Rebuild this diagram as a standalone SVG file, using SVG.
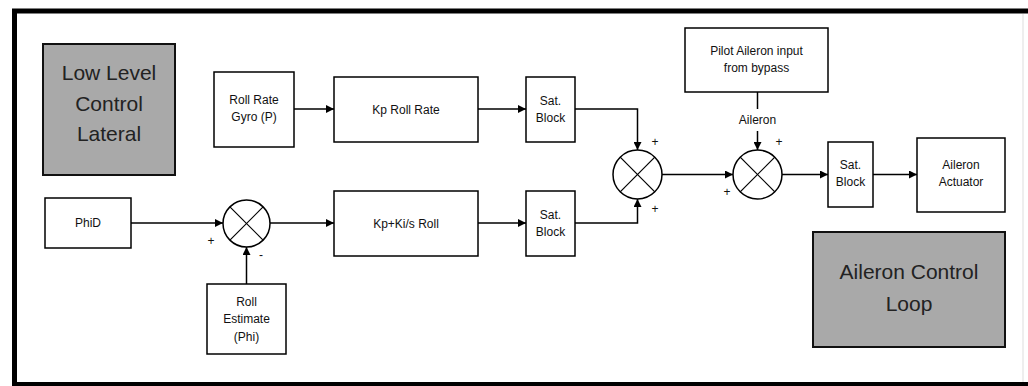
<svg xmlns="http://www.w3.org/2000/svg" width="1028" height="386" viewBox="0 0 1028 386">
<defs>
<style>
.box{fill:#fff;stroke:#000;stroke-width:1.5}
.gray{fill:#a9a9a9;stroke:#111;stroke-width:2}
.sum{fill:#fff;stroke:#000;stroke-width:1.5}
.x{stroke:#000;stroke-width:1.2}
.t{font-family:"Liberation Sans",Arial,sans-serif;font-size:12px;fill:#111;text-anchor:middle}
.big{font-family:"Liberation Sans",Arial,sans-serif;font-size:21px;fill:#222;text-anchor:middle}
.sign{font-family:"Liberation Sans",Arial,sans-serif;font-size:12px;fill:#111;text-anchor:middle}
.c{fill:none;stroke:#000;stroke-width:1.5}
</style>
<marker id="ah" viewBox="0 0 10 10" refX="10" refY="5" markerWidth="8" markerHeight="8" markerUnits="userSpaceOnUse" orient="auto">
<path d="M0,0 L10,5 L0,10 z" fill="#000"/>
</marker>
</defs>
<rect x="0" y="0" width="1028" height="386" fill="#fff"/>
<path d="M14.5,386 L14.5,11 L1028,11" fill="none" stroke="#000" stroke-width="5"/>
<line x1="12" y1="384" x2="1028" y2="384" stroke="#000" stroke-width="4"/>
<line x1="1023" y1="14" x2="1023" y2="382" stroke="#ddd" stroke-width="1"/>

<g id="low-level">
<rect class="gray" x="43" y="44" width="132" height="131"/>
<text class="big" x="109" y="80">Low Level</text>
<text class="big" x="109" y="111">Control</text>
<text class="big" x="109" y="141">Lateral</text>
</g>
<g id="roll-rate-gyro">
<rect class="box" x="214" y="72" width="80" height="75"/>
<text class="t" x="254" y="104">Roll Rate</text>
<text class="t" x="254" y="121">Gyro (P)</text>
</g>
<g id="kp-roll-rate">
<rect class="box" x="334" y="77" width="144" height="65"/>
<text class="t" x="406" y="114">Kp Roll Rate</text>
</g>
<g id="sat-top">
<rect class="box" x="526" y="77" width="49" height="65"/>
<text class="t" x="550.5" y="105">Sat.</text>
<text class="t" x="550.5" y="122">Block</text>
</g>
<g id="phid">
<rect class="box" x="45" y="198" width="86" height="50"/>
<text class="t" x="88" y="227">PhiD</text>
</g>
<g id="sum1">
<circle class="sum" cx="246.5" cy="223.5" r="23.5"/>
<line class="x" x1="229.9" y1="206.9" x2="263.1" y2="240.1"/>
<line class="x" x1="263.1" y1="206.9" x2="229.9" y2="240.1"/>
</g>
<g id="roll-estimate">
<rect class="box" x="207" y="284" width="79" height="70"/>
<text class="t" x="246.5" y="306">Roll</text>
<text class="t" x="246.5" y="323">Estimate</text>
<text class="t" x="246.5" y="341">(Phi)</text>
</g>
<g id="kp-ki-roll">
<rect class="box" x="334" y="191" width="144" height="65"/>
<text class="t" x="406" y="228">Kp+Ki/s Roll</text>
</g>
<g id="sat-bottom">
<rect class="box" x="526" y="191" width="49" height="65"/>
<text class="t" x="550.5" y="219">Sat.</text>
<text class="t" x="550.5" y="236">Block</text>
</g>
<g id="sum2">
<circle class="sum" cx="637.5" cy="174.5" r="24.5"/>
<line class="x" x1="620.2" y1="157.2" x2="654.8" y2="191.8"/>
<line class="x" x1="654.8" y1="157.2" x2="620.2" y2="191.8"/>
</g>
<g id="pilot-aileron">
<rect class="box" x="685" y="28" width="143" height="64"/>
<text class="t" x="756.5" y="55">Pilot Aileron input</text>
<text class="t" x="756.5" y="72">from bypass</text>
</g>
<g id="sum3">
<circle class="sum" cx="757.5" cy="174.5" r="24.5"/>
<line class="x" x1="740.2" y1="157.2" x2="774.8" y2="191.8"/>
<line class="x" x1="774.8" y1="157.2" x2="740.2" y2="191.8"/>
</g>
<g id="sat-out">
<rect class="box" x="828" y="142" width="45" height="65"/>
<text class="t" x="850.5" y="169">Sat.</text>
<text class="t" x="850.5" y="186">Block</text>
</g>
<g id="aileron-actuator">
<rect class="box" x="917" y="138" width="88" height="74"/>
<text class="t" x="961" y="169">Aileron</text>
<text class="t" x="961" y="186">Actuator</text>
</g>
<g id="aileron-control-loop">
<rect class="gray" x="813" y="232" width="192" height="115"/>
<text class="big" x="909" y="279">Aileron Control</text>
<text class="big" x="909" y="311">Loop</text>
</g>

<g id="connectors">
<line class="c" x1="294" y1="109" x2="334" y2="109" marker-end="url(#ah)"/>
<line class="c" x1="478" y1="109" x2="526" y2="109" marker-end="url(#ah)"/>
<polyline class="c" points="575,109 637.5,109 637.5,150" marker-end="url(#ah)"/>
<line class="c" x1="131" y1="223" x2="223" y2="223" marker-end="url(#ah)"/>
<line class="c" x1="246.5" y1="284" x2="246.5" y2="247" marker-end="url(#ah)"/>
<line class="c" x1="270" y1="223" x2="334" y2="223" marker-end="url(#ah)"/>
<line class="c" x1="478" y1="223" x2="526" y2="223" marker-end="url(#ah)"/>
<polyline class="c" points="575,223 637.5,223 637.5,199" marker-end="url(#ah)"/>
<line class="c" x1="662" y1="174.5" x2="733" y2="174.5" marker-end="url(#ah)"/>
<line class="c" x1="757.5" y1="92" x2="757.5" y2="109"/>
<line class="c" x1="757.5" y1="131" x2="757.5" y2="150" marker-end="url(#ah)"/>
<text class="t" x="757.5" y="124">Aileron</text>
<line class="c" x1="782" y1="174.5" x2="828" y2="174.5" marker-end="url(#ah)"/>
<line class="c" x1="873" y1="174.5" x2="917" y2="174.5" marker-end="url(#ah)"/>
<text class="sign" x="211" y="245">+</text>
<text class="sign" x="261" y="259">-</text>
<text class="sign" x="655" y="146">+</text>
<text class="sign" x="655" y="213">+</text>
<text class="sign" x="727" y="196">+</text>
<text class="sign" x="779" y="146">+</text>
</g>
</svg>
